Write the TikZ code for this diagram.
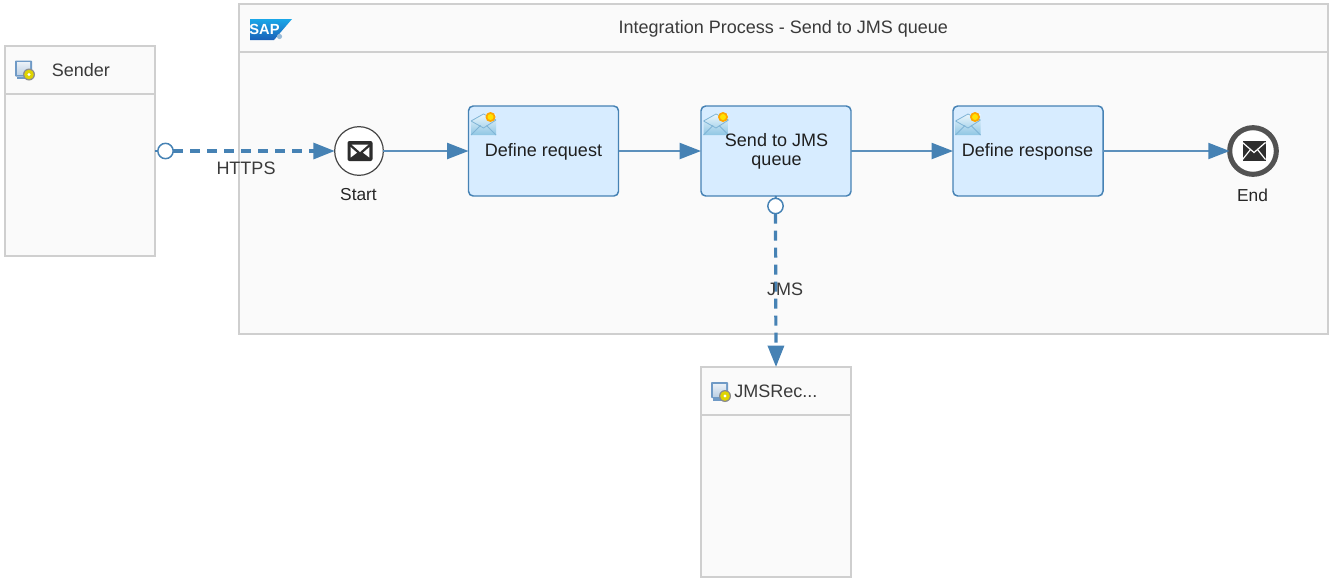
\documentclass[tikz,border=0pt]{standalone}
\usepackage{fontspec}
\setmainfont{Liberation Sans}
\usetikzlibrary{arrows.meta,calc,shadings}
\definecolor{flow}{HTML}{4682B4}
\definecolor{flowsoft}{HTML}{5C90BC}
\definecolor{boxline}{HTML}{CFCFCF}
\definecolor{boxfill}{HTML}{FAFAFA}
\definecolor{taskfill}{HTML}{D7ECFF}
\definecolor{ink}{HTML}{3A3A3A}
\definecolor{sapa}{HTML}{1AA7E8}
\definecolor{sapb}{HTML}{1A60B8}
\definecolor{mailtop}{HTML}{EAF6FC}
\definecolor{mailbot}{HTML}{8FC6E4}
\definecolor{mailline}{HTML}{7FB4D6}
\definecolor{screen}{HTML}{6F9AC6}
\tikzset{
  px/.style={x=.75pt,y=-.75pt},
  boxshape/.style={draw=boxline,fill=boxfill,line width=1.5pt,inner sep=0pt,outer sep=0pt},
  headband/.style={inner sep=0pt,outer sep=0pt},
  headrule/.style={draw=boxline,line width=1.5pt},
  taskbox/.style={draw=flow,fill=taskfill,line width=1.1pt,rounded corners=3.5pt,inner sep=0pt,outer sep=0pt,minimum width=112.5pt,minimum height=67.5pt},
  tasktext/.style={text=black!88,font=\fontsize{13.5}{14.25}\selectfont,align=center,inner sep=0pt},
  labeltext/.style={text=ink,font=\fontsize{13.5}{14}\selectfont,inner sep=0pt},
  eventtext/.style={text=black!85,font=\fontsize{13}{14}\selectfont,inner sep=0pt},
  flowsolid/.style={draw=flowsoft,line width=1.5pt,-{Triangle[length=16pt,width=12pt,color=flow]}},
  flowdash/.style={draw=flow,line width=2.4pt,dash pattern=on 7.5pt off 5.25pt,-{Triangle[length=16pt,width=12pt,color=flow]}},
  portcircle/.style={circle,draw=flow,fill=white,line width=1.1pt,minimum size=11.5pt,inner sep=0pt,outer sep=0pt},
  startevent/.style={circle,draw=black!72,fill=white,line width=.9pt,minimum size=36.5pt,inner sep=0pt,outer sep=0pt},
  endevent/.style={circle,draw=black!68,fill=white,line width=3.8pt,minimum size=35pt,inner sep=0pt,outer sep=0pt},
}
\newcommand{\mailstart}[2]{%
  \begin{scope}[shift={(#1,#2)}]
    \fill[black!82,rounded corners=1.5pt] (-12.5,-10) rectangle (12.5,10);
    \fill[white] (-8.5,-6.5) -- (8.5,-6.5) -- (0,1) -- cycle;
    \fill[white] (-9.3,-3.8) -- (-3,1.7) -- (-9.3,6.5) -- cycle;
    \fill[white] (9.3,-3.8) -- (3,1.7) -- (9.3,6.5) -- cycle;
  \end{scope}}
\newcommand{\mailfinish}[2]{%
  \begin{scope}[shift={(#1,#2)}]
    \fill[black!82] (-11.5,-10) rectangle (11.5,10);
    \draw[white,line width=.9pt] (-11.5,-8.5) -- (0,1.5) -- (11.5,-8.5);
    \draw[white,line width=.9pt] (-11.5,8.5) -- (-3.5,-1.5);
    \draw[white,line width=.9pt] (11.5,8.5) -- (3.5,-1.5);
  \end{scope}}
\newcommand{\taskicon}[2]{%
  \begin{scope}[shift={(#1,#2)}]
    \shade[top color=mailtop,bottom color=mailbot] (-12.5,-3) -- (0,-10) -- (12.5,-10) -- (12.5,11) -- (-12.5,11) -- cycle;
    \draw[mailline,line width=.6pt] (-12.5,-3) -- (0,-10) -- (12.5,-4) (-12.5,-3) -- (0,4) -- (12.5,-4);
    \draw[mailline,line width=.6pt] (-12.5,11) -- (-3,1.5);
    \draw[mailline,line width=.6pt] (12.5,11) -- (3,1.5);
    \fill[orange!70!yellow] (7,-7) circle[radius=5];
    \fill[yellow!85!orange] (7,-7) circle[radius=3];
  \end{scope}}
\newcommand{\sysicon}[2]{%
  \begin{scope}[shift={(#1,#2)}]
    \fill[screen,rounded corners=.6pt] (-9.5,-9.5) rectangle (7.5,6.5);
    \shade[top color=white!85!screen,bottom color=screen!45] (-7.5,-7.5) rectangle (5.5,4.5);
    \fill[screen] (-7.5,6.5) rectangle (1,9);
    \fill[black!45] (4.5,4.5) circle[radius=6];
    \fill[yellow!72!olive] (4.5,4.5) circle[radius=4.8];
    \fill[white] (4.5,4.5) circle[radius=1.7];
  \end{scope}}
\begin{document}
\begin{tikzpicture}[px]
\useasboundingbox (0,0) rectangle (1330,579);
% pools
\node[boxshape,minimum width=816.75pt,minimum height=247.5pt] (pool) at (783.5,169) {};
\node[headband,minimum width=816.75pt,minimum height=36pt] (poolhead) at (783.5,28) {};
\draw[headrule] (poolhead.south west) -- (poolhead.south east);
\node[labeltext] (pooltitle) at (783.3,28.5) {Integration Process - Send to JMS queue};
\node[boxshape,minimum width=112.5pt,minimum height=157.5pt] (sender) at (80,151) {};
\node[headband,minimum width=112.5pt,minimum height=36pt] (senderhead) at (80,70) {};
\draw[headrule] (senderhead.south west) -- (senderhead.south east);
\node[labeltext,anchor=west] (sendertitle) at (51.5,70) {Sender};
\node[boxshape,minimum width=112.5pt,minimum height=157.5pt] (jms) at (776,472) {};
\node[headband,minimum width=112.5pt,minimum height=36pt] (jmshead) at (776,391) {};
\draw[headrule] (jmshead.south west) -- (jmshead.south east);
\node[labeltext,anchor=west] (jmstitle) at (734,391) {JMSRec...};
\sysicon{24.5}{70}
\sysicon{720.5}{391.5}
% SAP logo
\shade[top color=sapa,bottom color=sapb] (250,19) -- (292,19) -- (274,40) -- (250,40) -- cycle;
\fill[flow!55] (279.5,36.5) circle[radius=2.6];
\node[inner sep=0pt,text=white,font=\bfseries\fontsize{11}{11}\selectfont] (saplogo) at (264.5,29.5) {SAP};
% events and tasks
\node[startevent] (start) at (359,151) {};
\node[endevent] (end) at (1253,151) {};
\node[taskbox] (request) at (543.5,151) {};
\node[taskbox] (send) at (776,151) {};
\node[taskbox] (response) at (1028,151) {};
\mailstart{360}{151}
\mailfinish{1254}{151}
\taskicon{483.5}{124}
\taskicon{716}{124}
\taskicon{968}{124}
\node[tasktext] (requesttext) at (543.5,151.5) {Define request};
\node[tasktext] (sendtext) at (776.5,151) {Send to JMS\\queue};
\node[tasktext] (responsetext) at (1027.5,151.5) {Define response};
\node[eventtext] (starttext) at (358.5,195) {Start};
\node[eventtext] (endtext) at (1252.5,195) {End};
% connectors
\node[portcircle] (portA) at (165.5,151) {};
\node[portcircle] (portB) at (775.5,206) {};
\draw[flowdash] (portA.east) -- (start.west);
\draw[flow,line width=1.5pt] (sender.east) -- (portA.west);
\draw[flowdash] (portB.south) -- (jms.north);
\draw[flow,line width=1.5pt] (send.south) -- (portB.north);
\draw[flowsolid] (start.east) -- (request.west);
\draw[flowsolid] (request.east) -- (send.west);
\draw[flowsolid] (send.east) -- (response.west);
\draw[flowsolid] (response.east) -- (end.west);
\node[labeltext] (https) at (246,168) {HTTPS};
\node[labeltext] (jmslabel) at (785,289) {JMS};
\end{tikzpicture}
\end{document}
